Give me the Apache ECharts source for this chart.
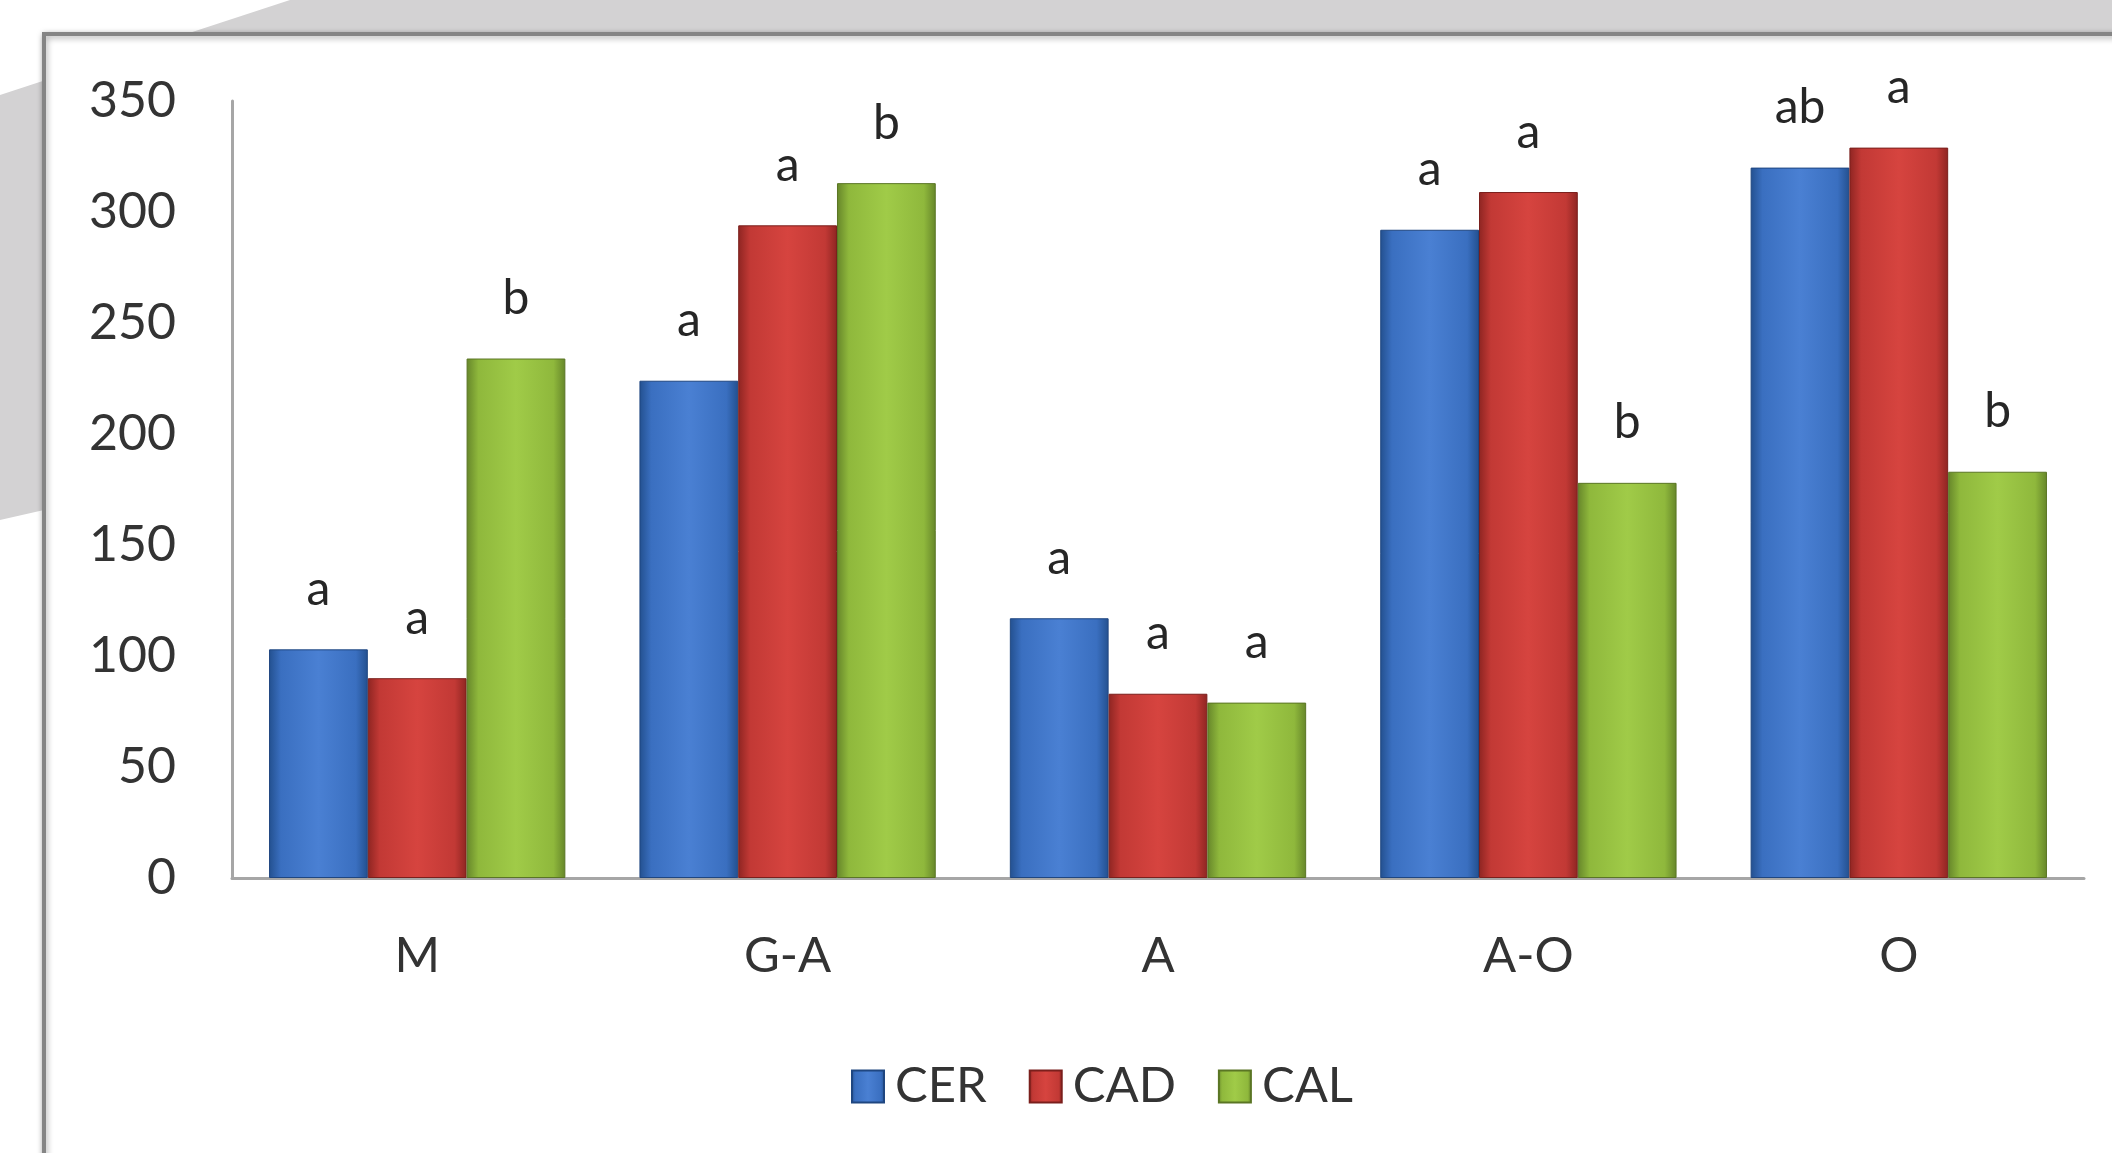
<!DOCTYPE html>
<html>
<head>
<meta charset="utf-8">
<script src="https://cdn.jsdelivr.net/npm/echarts@6/dist/echarts.min.js"></script>
<style>
  html, body { margin: 0; padding: 0; background: #ffffff; }
  #chart { width: 2112px; height: 1153px; }
</style>
</head>
<body>
<div id="chart"></div>
<script>
const categories = ['M', 'G-A', 'A', 'A-O', 'O'];
const seriesNames = ['CER', 'CAD', 'CAL'];
const cerValues = [103, 224, 117, 292, 320];
const cadValues = [90, 294, 83, 309, 329];
const calValues = [234, 313, 79, 178, 183];
const cerLetters = ['a', 'a', 'a', 'a', 'ab'];
const cadLetters = ['a', 'a', 'a', 'a', 'a'];
const calLetters = ['b', 'b', 'a', 'b', 'b'];
const yTicks = [0, 50, 100, 150, 200, 250, 300, 350];

const FONT = 'Lato, "Open Sans", sans-serif';

function grad(dark, mid, light) {
  return new echarts.graphic.LinearGradient(0, 0, 1, 0, [
    { offset: 0, color: dark },
    { offset: 0.12, color: mid },
    { offset: 0.5, color: light },
    { offset: 0.88, color: mid },
    { offset: 1, color: dark }
  ]);
}

const styles = [
  { color: grad('#23508f', '#3a6fc0', '#4a80d3'), border: '#1f4680' },
  { color: grad('#8e2522', '#c23935', '#d6443f'), border: '#7a1f1c' },
  { color: grad('#66862a', '#8fb83c', '#a0cb48'), border: '#5a7524' }
];
const valueSets = [cerValues, cadValues, calValues];
const letterSets = [cerLetters, cadLetters, calLetters];

const series = seriesNames.map((name, i) => ({
  name: name,
  type: 'bar',
  data: valueSets[i],
  barGap: '0%',
  barCategoryGap: '20%',
  itemStyle: { color: styles[i].color, borderColor: styles[i].border, borderWidth: 1 },
  label: {
    show: true,
    position: 'top',
    distance: 36,
    fontFamily: FONT,
    fontSize: 48,
    color: '#262626',
    formatter: (p) => letterSets[i][p.dataIndex]
  },
  z: 3
}));

const chart = echarts.init(document.getElementById('chart'), null, { renderer: 'canvas' });
chart.setOption({
  animation: false,
  backgroundColor: '#ffffff',
  graphic: [
    {
      type: 'polygon',
      z: -20,
      shape: { points: [[0, 95], [290, 0], [2112, 0], [2112, 40], [0, 520]] },
      style: { fill: '#d3d2d3' }
    },
    {
      type: 'rect',
      z: -10,
      shape: { x: 44, y: 34, width: 2200, height: 1300 },
      style: { fill: '#ffffff', stroke: '#858585', lineWidth: 4,
               shadowBlur: 6, shadowColor: 'rgba(0,0,0,0.35)', shadowOffsetX: 1, shadowOffsetY: 2 }
    }
  ],
  grid: { left: 232, right: 28, top: 101, bottom: 275, containLabel: false },
  legend: {
    data: seriesNames,
    left: 846,
    top: 1057,
    itemWidth: 32,
    itemHeight: 32,
    itemGap: 42,
    icon: 'rect',
    textStyle: { fontFamily: FONT, fontSize: 49, color: '#333333', padding: [0, 0, 0, 6] }
  },
  xAxis: {
    type: 'category',
    data: categories,
    axisLine: { show: true, lineStyle: { color: '#a6a6a6', width: 3 } },
    axisTick: { show: false },
    axisLabel: { fontFamily: FONT, fontSize: 49, color: '#333333', margin: 54 }
  },
  yAxis: {
    type: 'value',
    min: yTicks[0],
    max: yTicks[yTicks.length - 1],
    interval: 50,
    axisLine: { show: true, lineStyle: { color: '#a6a6a6', width: 3 } },
    axisTick: { show: false },
    splitLine: { show: false },
    axisLabel: { fontFamily: FONT, fontSize: 50, color: '#333333', margin: 56 }
  },
  series: series
});
</script>
</body>
</html>
